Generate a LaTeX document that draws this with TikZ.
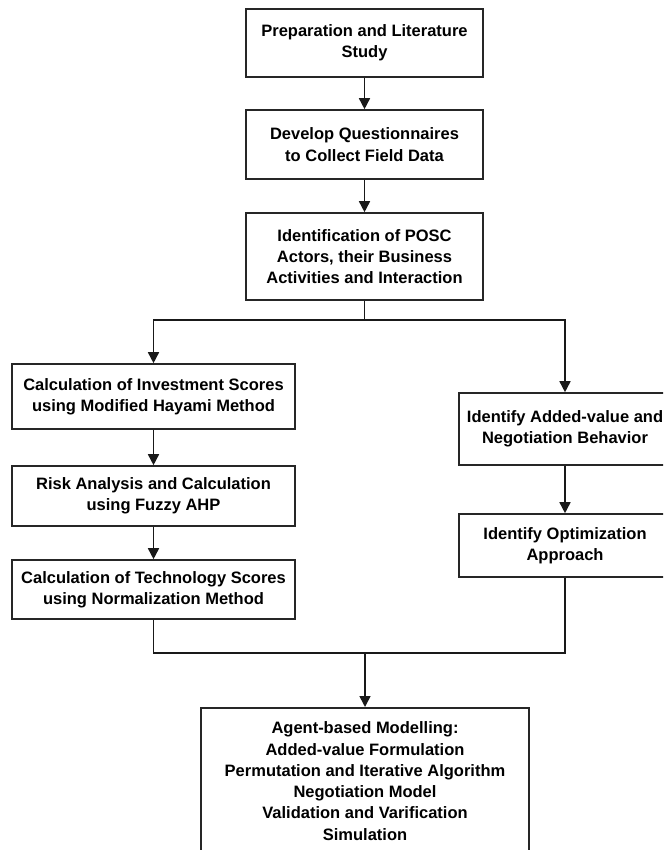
\documentclass[tikz,border=0pt]{standalone}
\usepackage{fontspec}
\setmainfont{Liberation Sans}
\usetikzlibrary{arrows.meta}
\tikzset{
  box/.style={draw=black!85, line width=1.6pt, fill=white, align=center, inner sep=2pt,
    font=\bfseries\fontsize{16.5}{21.3}\selectfont},
  conn/.style={draw=black!90, line width=1.6pt},
  arr/.style={conn, -{Triangle[width=11pt,length=11pt]}},
}
\begin{document}
\begin{tikzpicture}[x=1pt,y=-1pt]
\useasboundingbox (0,0) rectangle (663,850);
\clip (0,0) rectangle (663,850);
\fill[white] (0,0) rectangle (663,850);
\node[box, minimum width=237, minimum height=68] (b1) at (364.5,43) {Preparation and Literature\\Study};
\node[box, minimum width=237, minimum height=69] (b2) at (364.5,144.5) {Develop Questionnaires\\to Collect Field Data};
\node[box, minimum width=237, minimum height=87] (b3) at (364.5,256.5) {Identification of POSC\\Actors, their Business\\Activities and Interaction};
\node[box, minimum width=283, minimum height=65] (l1) at (153.5,396.5) {Calculation of Investment Scores\\using Modified Hayami Method};
\node[box, minimum width=283, minimum height=60] (l2) at (153.5,496) {Risk Analysis and Calculation\\using Fuzzy AHP};
\node[box, minimum width=283, minimum height=59] (l3) at (153.5,589.5) {Calculation of Technology Scores\\using Normalization Method};
\node[box, minimum width=212, minimum height=72] (r1) at (565,429) {Identify Added-value and\\Negotiation Behavior};
\node[box, minimum width=212, minimum height=63] (r2) at (565,545.5) {Identify Optimization\\Approach};
\node[box, inner sep=0pt, anchor=north] (bot) at (365,707) {\parbox[t][175pt][t]{328pt}{\centering\vspace{14pt}Agent-based Modelling:\\Added-value Formulation\\Permutation and Iterative Algorithm\\Negotiation Model\\Validation and Varification\\Simulation}};
\coordinate (j1) at (364.5,320);
\coordinate (j2) at (365,653);
\draw[arr] (b1.south) -- (b2.north);
\draw[arr] (b2.south) -- (b3.north);
\draw[arr] (b3.south) -- (j1) -| (l1.north);
\draw[arr] (j1) -| (r1.north);
\draw[arr] (l1.south) -- (l2.north);
\draw[arr] (l2.south) -- (l3.north);
\draw[arr] (r1.south) -- (r2.north);
\draw[conn] (l3.south) |- (j2) -| (r2.south);
\draw[arr] (j2) -- (bot.north);
\end{tikzpicture}
\end{document}
